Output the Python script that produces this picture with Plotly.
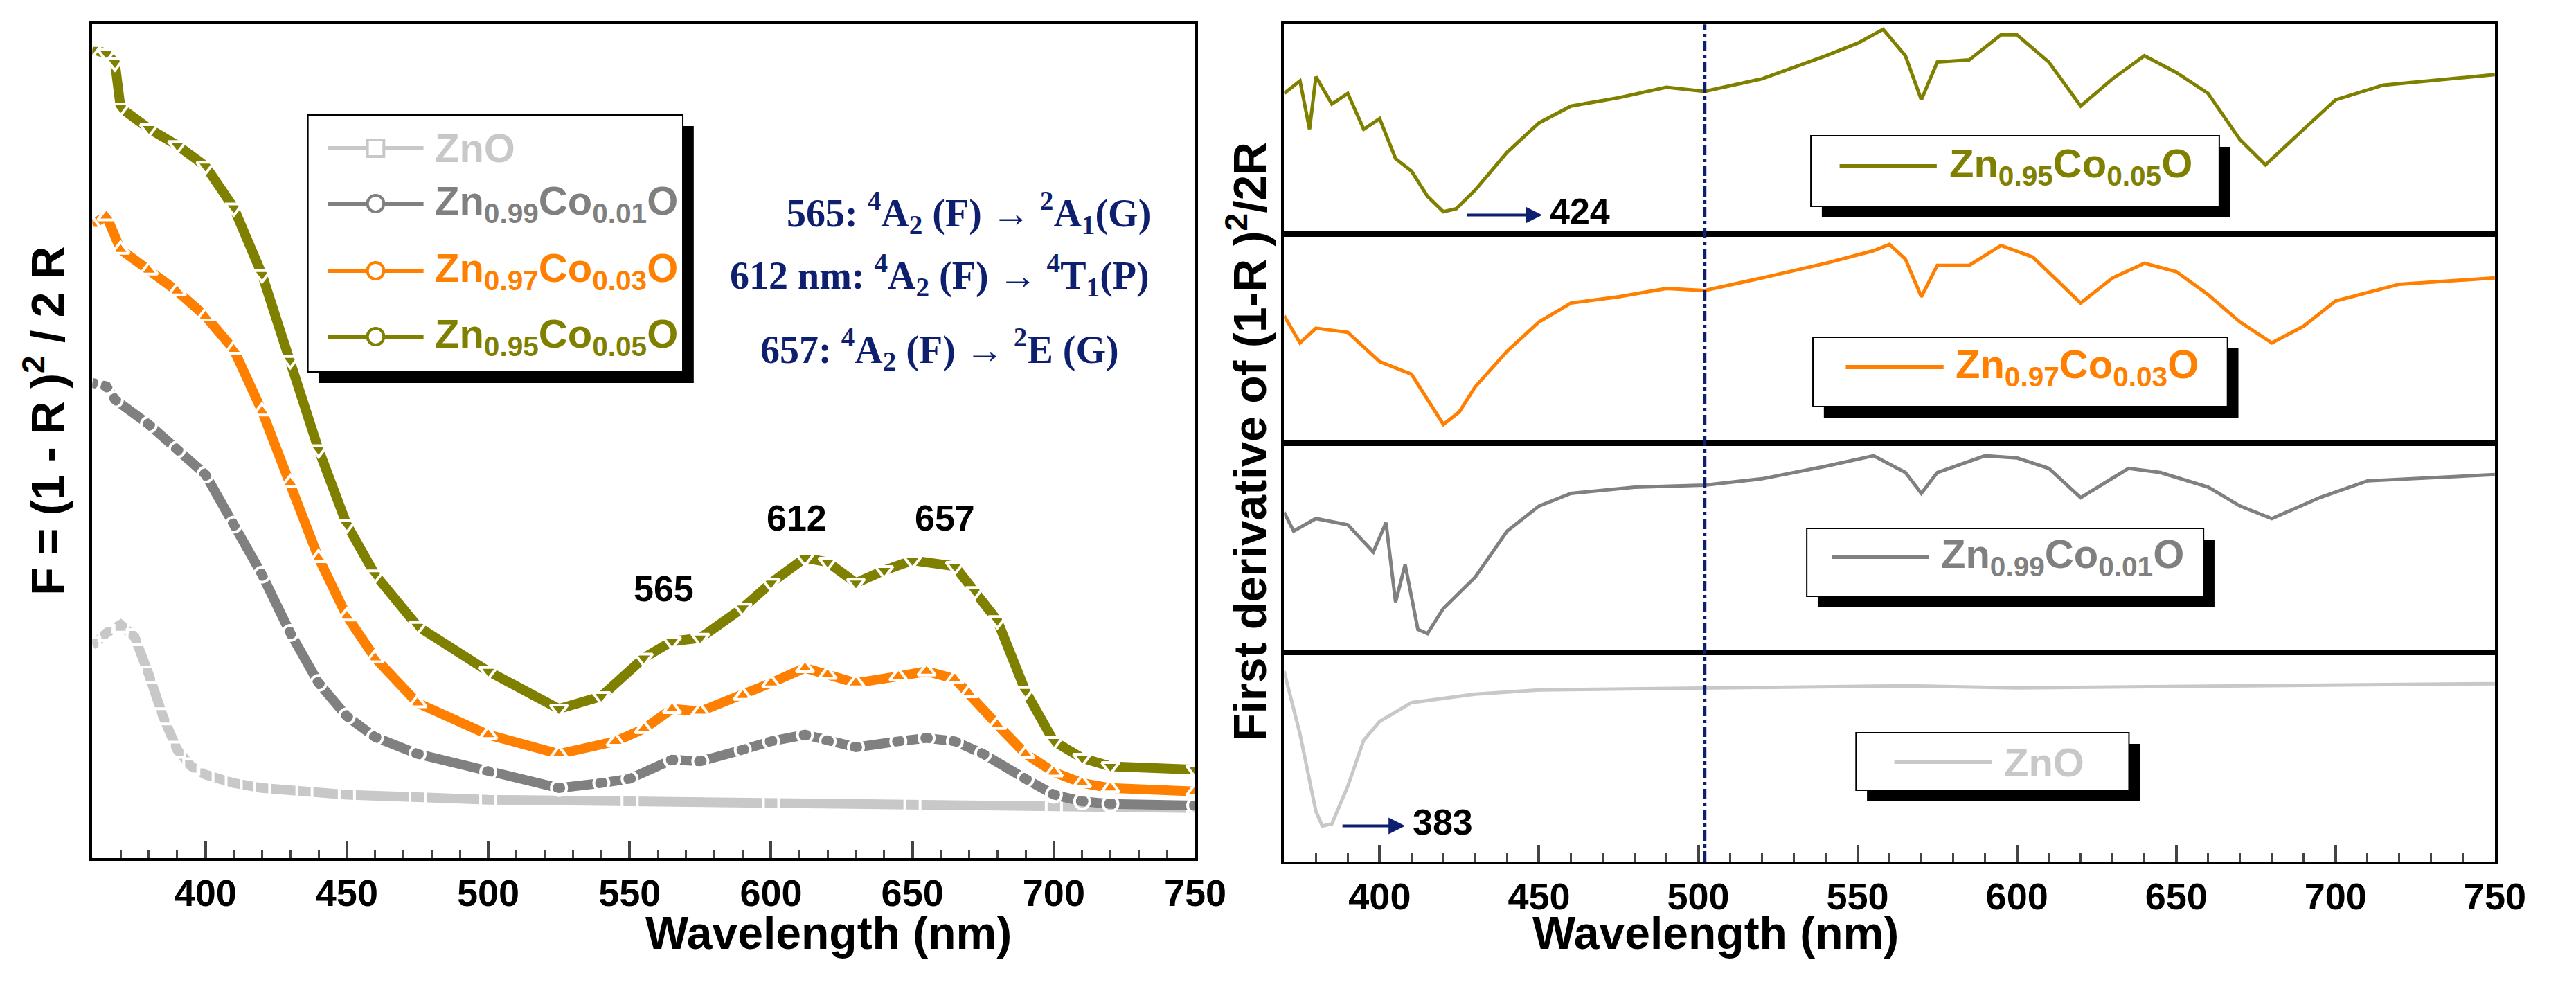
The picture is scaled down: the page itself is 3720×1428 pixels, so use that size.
import plotly.graph_objects as go

W, H = 3720, 1428
C_ZNO, C_99, C_97, C_95 = "#c8c8c8", "#808080", "#ff8000", "#808000"
NAVY = "#0d1f6e"

# ---- left panel data (F(R), arbitrary units) ----
zno_x = [360, 365, 370, 375, 380, 385, 390, 395, 400, 410, 420, 435, 450, 475, 500, 550, 600, 650, 700, 750]
zno_y = [25.5, 27, 28, 26.5, 22, 17, 13, 11, 10, 9, 8.4, 8, 7.6, 7.3, 7, 6.8, 6.6, 6.5, 6.3, 6]
z99_x = [360, 365, 368, 380, 390, 400, 410, 420, 430, 440, 450, 460, 475, 500, 525, 540, 550, 565, 575, 590, 600, 612, 620, 630, 645, 655, 665, 675, 690, 700, 710, 720, 750]
z99_y = [57, 56.6, 55, 52, 49, 46, 40, 34, 27, 21, 17, 14.5, 12.5, 10.3, 8.4, 9, 9.5, 11.8, 11.6, 13, 14, 14.8, 14, 13.3, 14, 14.4, 14, 12.5, 9.5, 7.6, 6.8, 6.5, 6.3]
z97_x = [360, 365, 370, 380, 390, 400, 410, 420, 430, 440, 450, 460, 475, 500, 525, 545, 555, 565, 575, 590, 600, 612, 620, 630, 645, 655, 665, 670, 680, 690, 700, 710, 720, 750]
z97_y = [76, 77, 73, 70.5, 68, 65, 61, 53.6, 45, 36, 29, 24, 18.6, 14.8, 12.5, 14, 15.5, 17.9, 17.6, 19.5, 21, 22.8, 22, 21, 21.8, 22.4, 21.5, 19.8, 16, 12.5, 10.3, 9, 8.4, 8]
z95_x = [360, 365, 368, 370, 380, 390, 400, 410, 420, 430, 440, 450, 460, 475, 500, 525, 540, 555, 565, 575, 590, 600, 612, 620, 630, 640, 650, 665, 672, 680, 690, 700, 710, 720, 750]
z95_y = [97, 96.5, 95.4, 90, 87.5, 85.5, 83, 78, 70, 59.7, 49, 40, 34, 27.8, 22.4, 17.9, 19.4, 24, 26, 26.4, 30, 33, 36, 35.5, 33, 34.5, 35.7, 35, 32, 28.5, 20, 14, 12, 11, 10.6]

# ---- right panel data (first derivative, arbitrary units) ----
d95_x = [370, 375, 378, 380, 385, 390, 395, 400, 405, 410, 415, 420, 424, 430, 440, 450, 460, 475, 490, 502, 520, 540, 550, 558, 565, 570, 575, 585, 595, 600, 610, 620, 630, 640, 650, 660, 670, 678, 690, 700, 715, 735, 750]
d95_y = [67, 73, 50, 75, 62, 67, 50, 55, 36, 30, 18, 10.6, 12, 21, 39, 53, 61, 65, 70, 68, 74, 85, 91, 97.6, 85, 64, 82, 83, 95, 95, 82, 61, 74, 85, 77, 67, 45, 33, 50, 64, 71, 74, 76]
d97_x = [370, 375, 380, 390, 400, 410, 415, 420, 425, 430, 440, 450, 460, 475, 490, 502, 520, 540, 555, 560, 565, 570, 575, 585, 595, 605, 620, 630, 640, 650, 660, 670, 680, 690, 700, 720, 750]
d97_y = [61, 48, 55, 53, 39, 33, 21, 9, 15, 27, 44, 58, 67, 70, 74, 73, 79, 86, 92, 95, 88, 70, 85, 85, 94.5, 89, 67, 79, 86, 82, 71, 58, 48, 56, 68, 76, 79]
d99_x = [370, 373, 380, 390, 398, 402, 405, 408, 412, 415, 420, 430, 440, 450, 460, 480, 502, 520, 540, 555, 565, 570, 575, 590, 600, 610, 620, 635, 645, 660, 670, 680, 695, 710, 750]
d99_y = [67, 58, 64, 61, 48, 62, 24, 42, 11, 9, 21, 36, 58, 70, 76, 79, 80, 83, 89, 94, 86, 76, 86, 94, 93, 88, 74, 88, 86, 79, 70, 64, 74, 82, 85]
d0_x = [370, 375, 380, 382, 385, 390, 395, 400, 410, 430, 450, 500, 565, 600, 700, 750]
d0_y = [91, 61, 24, 17, 18, 36, 58, 67, 76, 80, 82, 83, 84, 83, 84.5, 85]

fig = go.Figure()
mk = lambda sym, c: dict(symbol=sym, size=22, color="white", line=dict(color=c, width=4))
fig.add_trace(go.Scatter(x=zno_x, y=zno_y, mode="lines+markers", line=dict(color=C_ZNO, width=14), marker=mk("square-open", C_ZNO), xaxis="x", yaxis="y"))
fig.add_trace(go.Scatter(x=z99_x, y=z99_y, mode="lines+markers", line=dict(color=C_99, width=14), marker=mk("circle-open", C_99), xaxis="x", yaxis="y"))
fig.add_trace(go.Scatter(x=z97_x, y=z97_y, mode="lines+markers", line=dict(color=C_97, width=14), marker=mk("triangle-up-open", C_97), xaxis="x", yaxis="y"))
fig.add_trace(go.Scatter(x=z95_x, y=z95_y, mode="lines+markers", line=dict(color=C_95, width=14), marker=mk("triangle-down-open", C_95), xaxis="x", yaxis="y"))

fig.add_trace(go.Scatter(x=d95_x, y=d95_y, mode="lines", line=dict(color=C_95, width=5), xaxis="x2", yaxis="y2"))
fig.add_trace(go.Scatter(x=d97_x, y=d97_y, mode="lines", line=dict(color=C_97, width=5), xaxis="x3", yaxis="y3"))
fig.add_trace(go.Scatter(x=d99_x, y=d99_y, mode="lines", line=dict(color=C_99, width=5), xaxis="x4", yaxis="y4"))
fig.add_trace(go.Scatter(x=d0_x, y=d0_y, mode="lines", line=dict(color=C_ZNO, width=5), xaxis="x5", yaxis="y5"))

TF = dict(family="Arial", size=54, color="black", weight="bold")
def xax(dom, rng, showlab, anchor):
    return dict(domain=dom, range=rng, anchor=anchor, showline=True, linewidth=4, linecolor="black", mirror=True,
                showgrid=False, zeroline=False, ticks="inside" if showlab else "", ticklen=24, tickwidth=4,
                dtick=50, tick0=400, showticklabels=showlab, tickfont=TF,
                minor=dict(ticks="inside" if showlab else "", ticklen=12, tickwidth=3, dtick=10, tick0=400))
def yax(dom, rng, anchor):
    return dict(domain=dom, range=rng, anchor=anchor, showline=True, linewidth=4, linecolor="black", mirror=True,
                showgrid=False, zeroline=False, showticklabels=False, ticks="")

RX = [0.5024, 0.9782]
pd = [[0.769, 0.981], [0.5574, 0.769], [0.346, 0.5574], [0.1345, 0.346]]
fig.update_layout(
    width=W, height=H, margin=dict(l=0, r=0, t=0, b=0), paper_bgcolor="white", plot_bgcolor="white", showlegend=False,
    xaxis=xax([0.0341, 0.4675], [360, 750], True, "y"), yaxis=yax([0.138, 0.981], [0, 100], "x"),
    xaxis2=xax(RX, [370, 750], False, "y2"), yaxis2=yax(pd[0], [0, 100], "x2"),
    xaxis3=xax(RX, [370, 750], False, "y3"), yaxis3=yax(pd[1], [0, 100], "x3"),
    xaxis4=xax(RX, [370, 750], False, "y4"), yaxis4=yax(pd[2], [0, 100], "x4"),
    xaxis5=xax(RX, [370, 750], True, "y5"), yaxis5=yax(pd[3], [0, 100], "x5"),
)

px = lambda X: X / W
py = lambda Y: 1 - Y / H
shapes, ann = [], []

def box(x0, y0, x1, y1, off=16):
    shapes.append(dict(type="rect", xref="paper", yref="paper", x0=px(x0 + off), x1=px(x1 + off), y0=py(y1 + off), y1=py(y0 + off), fillcolor="black", line=dict(width=0)))
    shapes.append(dict(type="rect", xref="paper", yref="paper", x0=px(x0), x1=px(x1), y0=py(y1), y1=py(y0), fillcolor="white", line=dict(color="black", width=2)))

def entry(lx0, lx1, ly, tx, text, c, sym=None):
    shapes.append(dict(type="line", xref="paper", yref="paper", x0=px(lx0), x1=px(lx1), y0=py(ly), y1=py(ly), line=dict(color=c, width=6)))
    if sym:
        m = (lx0 + lx1) / 2
        shapes.append(dict(type=sym, xref="paper", yref="paper", x0=px(m - 12), x1=px(m + 12), y0=py(ly + 12), y1=py(ly - 12), fillcolor="white", line=dict(color=c, width=4)))
    ann.append(dict(xref="paper", yref="paper", x=px(tx), y=py(ly), xanchor="left", yanchor="middle", showarrow=False, text=text, font=dict(family="Arial", size=58, color=c)))

T99 = "<b>Zn<sub>0.99</sub>Co<sub>0.01</sub>O</b>"
T97 = "<b>Zn<sub>0.97</sub>Co<sub>0.03</sub>O</b>"
T95 = "<b>Zn<sub>0.95</sub>Co<sub>0.05</sub>O</b>"

# left legend
box(442, 158, 990, 529)
entry(471, 611, 206, 626, "<b>ZnO</b>", C_ZNO, "rect")
entry(471, 611, 286, 626, T99, C_99, "circle")
entry(471, 611, 383, 626, T97, C_97, "circle")
entry(471, 611, 478, 626, T95, C_95, "circle")

# right legends
box(2639, 188, 3236, 290); entry(2681, 2823, 232, 2839, T95, C_95)
box(2642, 479, 3248, 579); entry(2690, 2833, 522, 2848, T97, C_97)
box(2633, 755, 3213, 853); entry(2670, 2812, 796, 2827, T99, C_99)
box(2705, 1050, 3104, 1133); entry(2761, 2904, 1092, 2919, "<b>ZnO</b>", C_ZNO)

# dash-dot line
shapes.append(dict(type="line", xref="x5", yref="paper", x0=502, x1=502, y0=0.1345, y1=0.981, line=dict(color=NAVY, width=5, dash="dashdot")))

# arrows
for xr, yr, x0, x1, yv, lab in [("x2", "y2", 427, 451, 9, "424"), ("x5", "y5", 388, 408, 17, "383")]:
    ann.append(dict(xref=xr, yref=yr, x=x1, y=yv, ax=x0, ay=yv, axref=xr, ayref=yr, showarrow=True, arrowhead=2, arrowsize=1.2, arrowwidth=4, arrowcolor=NAVY, text=""))
    ann.append(dict(xref=xr, yref=yr, x=x1 + 2, y=yv + 2, xanchor="left", yanchor="middle", showarrow=False, text="<b>" + lab + "</b>", font=dict(family="Arial", size=52, color="black")))

# peak labels
for x, y, t in [(562, 32.3, "565"), (609, 40.8, "612"), (661.5, 40.8, "657")]:
    ann.append(dict(xref="x", yref="y", x=x, y=y, showarrow=False, text="<b>" + t + "</b>", font=dict(family="Arial", size=52, color="black")))

SF = dict(family="Times New Roman, Liberation Serif", size=56, color=NAVY)
for X, Y, t in [(1408, 258, "<b>565: <sup>4</sup>A<sub>2</sub> (F) → <sup>2</sup>A<sub>1</sub>(G)</b>"),
                (1366, 348, "<b>612 nm: <sup>4</sup>A<sub>2</sub> (F) → <sup>4</sup>T<sub>1</sub>(P)</b>"),
                (1366, 455, "<b>657: <sup>4</sup>A<sub>2</sub> (F) → <sup>2</sup>E (G)</b>")]:
    ann.append(dict(xref="paper", yref="paper", x=px(X), y=py(Y), showarrow=False, text=t, font=SF))

# axis titles
TT = dict(family="Arial", size=66, color="black")
ann.append(dict(xref="paper", yref="paper", x=px(933), y=py(1378), showarrow=False, text="<b>Wavelength (nm)</b>", font=TT))
ann.append(dict(xref="paper", yref="paper", x=px(2769), y=py(1378), showarrow=False, text="<b>Wavelength (nm)</b>", font=TT))
ann.append(dict(xref="paper", yref="paper", x=px(12), y=py(600), xanchor="left", textangle=-90, showarrow=False, text="<b>F = (1 - R )<sup>2</sup> / 2 R</b>", font=TT))
ann.append(dict(xref="paper", yref="paper", x=px(1770), y=py(630), xanchor="left", textangle=-90, showarrow=False, text="<b>First derivative of (1-R )<sup>2</sup>/2R</b>", font=TT))

fig.update_layout(shapes=shapes, annotations=ann)
fig.write_html("out.html")
